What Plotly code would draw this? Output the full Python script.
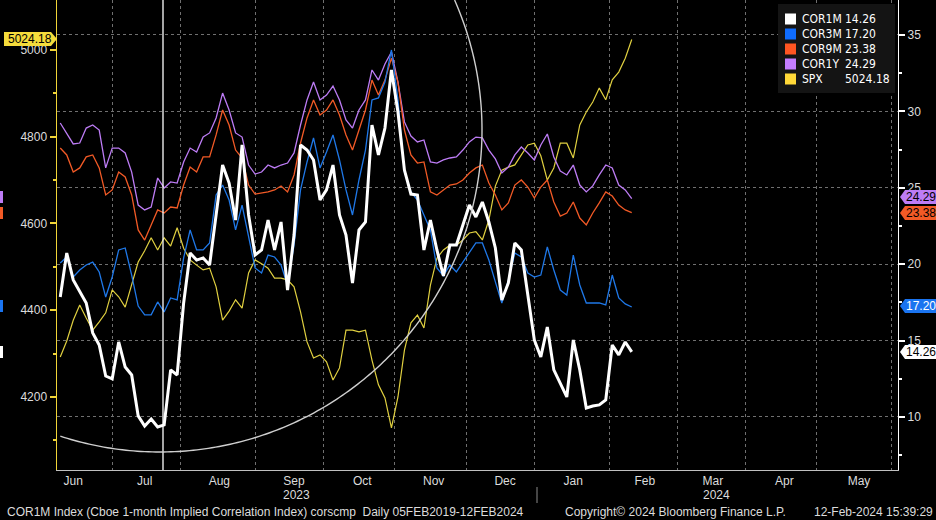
import numpy as np
import pandas as pd
import plotly.graph_objects as go

# ---------------- data (every second business day, Jun-2023 .. 12-Feb-2024) ----------------
dates = pd.bdate_range("2023-06-08", "2024-02-12")[1::2]

cor1m = [17.85, 20.73, 18.97, 18.18, 17.46, 15.50, 14.71, 12.68, 12.49, 14.91,
         13.27, 12.75, 10.07, 9.41, 9.87, 9.35, 9.48, 13.08, 12.75, 17.46,
         20.73, 20.27, 20.41, 19.95, 23.42, 26.49, 25.31, 22.89, 27.80, 23.22,
         20.60, 20.93, 22.89, 20.93, 22.76, 18.31, 21.91, 27.80, 27.47, 26.82,
         24.20, 24.86, 26.49, 23.22, 21.91, 18.77, 22.24, 22.76, 29.11, 27.15,
         28.91, 32.71, 29.96, 26.16, 24.59, 24.53, 20.93, 22.89, 20.93, 19.23,
         21.26, 21.26, 22.57, 23.87, 23.09, 24.07, 22.76, 21.06, 17.66, 18.77,
         21.39, 20.93, 17.98, 15.04, 13.93, 15.89, 13.08, 12.23, 11.31, 15.04,
         13.08, 10.59, 10.72, 10.79, 11.11, 14.71, 14.06, 14.91, 14.26]

cor3m = [20.08, 20.47, 19.16, 19.62, 19.95, 20.14, 19.49, 17.85, 19.16, 20.93,
         21.06, 19.29, 17.26, 16.68, 16.68, 17.53, 16.87, 17.79, 17.66, 20.41,
         22.24, 20.93, 20.93, 21.39, 24.53, 25.18, 24.20, 22.24, 23.87, 21.91,
         19.75, 19.42, 20.60, 20.47, 19.95, 18.64, 21.26, 24.86, 26.69, 28.26,
         26.30, 27.34, 28.46, 26.82, 24.86, 23.22, 25.51, 27.47, 30.75, 30.88,
         31.92, 34.02, 30.75, 26.03, 24.73, 24.20, 23.22, 22.24, 19.75, 19.23,
         19.95, 19.49, 20.14, 20.73, 21.39, 21.39, 20.27, 18.84, 17.46, 18.97,
         20.73, 20.47, 19.42, 19.16, 19.29, 21.13, 19.62, 18.31, 17.98, 20.60,
         18.64, 17.46, 17.46, 17.46, 17.33, 19.29, 17.79, 17.40, 17.20]

cor9m = [27.60, 27.15, 26.03, 26.30, 27.02, 27.15, 26.30, 24.53, 24.86, 26.03,
         25.71, 24.53, 22.24, 21.58, 22.57, 23.55, 23.35, 23.74, 23.68, 25.18,
         26.36, 26.03, 27.02, 27.02, 28.46, 30.09, 29.11, 27.47, 26.95, 25.18,
         24.59, 24.66, 24.73, 24.86, 25.12, 24.73, 25.84, 27.93, 29.57, 30.75,
         29.76, 30.09, 30.75, 29.76, 28.46, 27.47, 28.78, 30.09, 32.05, 31.07,
         32.05, 33.49, 31.92, 28.78, 27.15, 26.62, 26.69, 24.73, 24.53, 24.86,
         25.18, 25.25, 25.51, 25.97, 26.30, 26.49, 25.31, 24.53, 23.55, 24.01,
         25.18, 25.51, 25.05, 24.33, 25.05, 25.51, 24.07, 23.15, 23.35, 24.07,
         23.02, 22.57, 23.35, 24.01, 24.73, 24.46, 23.87, 23.55, 23.38]

cor1y = [29.24, 28.52, 27.87, 27.93, 28.91, 29.11, 28.78, 26.30, 27.60, 27.60,
         27.28, 26.03, 23.87, 23.55, 23.74, 25.64, 24.99, 25.38, 25.31, 26.69,
         27.60, 27.34, 28.32, 28.59, 29.57, 31.20, 30.09, 28.59, 28.32, 26.49,
         25.90, 26.03, 26.49, 26.30, 26.49, 26.62, 27.28, 29.11, 30.75, 31.92,
         30.75, 31.07, 31.66, 30.75, 29.44, 28.91, 30.09, 30.75, 32.71, 32.05,
         33.10, 33.89, 31.92, 29.31, 28.39, 28.00, 28.13, 26.69, 26.62, 26.82,
         26.95, 27.02, 27.47, 28.00, 28.32, 28.26, 27.47, 26.89, 25.97, 26.36,
         27.15, 27.67, 27.28, 26.82, 27.80, 28.52, 27.02, 26.10, 25.84, 26.49,
         25.18, 24.73, 25.12, 25.84, 26.49, 26.30, 25.18, 24.86, 24.29]

spx = [4292, 4329, 4377, 4412, 4382, 4354, 4373, 4394, 4447, 4431,
       4407, 4458, 4511, 4537, 4567, 4539, 4567, 4548, 4590, 4543,
       4516, 4504, 4493, 4497, 4454, 4377, 4398, 4424, 4405, 4486,
       4516, 4507, 4497, 4474, 4474, 4470, 4454, 4396, 4327, 4290,
       4297, 4281, 4239, 4267, 4354, 4354, 4350, 4354, 4285, 4228,
       4198, 4129, 4200, 4308, 4371, 4389, 4359, 4458, 4520, 4539,
       4550, 4550, 4562, 4578, 4581, 4562, 4608, 4686, 4723, 4730,
       4735, 4758, 4781, 4785, 4756, 4700, 4728, 4785, 4785, 4751,
       4827, 4857, 4880, 4912, 4885, 4931, 4949, 4981, 5024.18]

series_names = ["COR1M", "COR3M", "COR9M", "COR1Y", "SPX"]
last_labels = ["14.26", "17.20", "23.38", "24.29", "5024.18"]

month_starts = ["2023-07-03", "2023-08-01", "2023-09-01", "2023-10-02", "2023-11-01",
                "2023-12-01", "2024-01-01", "2024-02-01", "2024-03-01", "2024-04-01",
                "2024-05-01", "2024-06-03"]
month_label_dates = ["2023-06-15", "2023-07-17", "2023-08-17", "2023-09-19", "2023-10-18",
                     "2023-11-17", "2023-12-19", "2024-01-17", "2024-02-16", "2024-03-18",
                     "2024-04-17", "2024-05-20"]
month_names = ["Jun", "Jul", "Aug", "Sep", "Oct", "Nov", "Dec", "Jan", "Feb", "Mar", "Apr", "May"]
spx_ticks = [4200, 4400, 4600, 4800, 5000]
spx_minor = [4100, 4300, 4500, 4700, 4900]
cor_ticks = [10, 15, 20, 25, 30, 35]
cor_minor = [7.5, 12.5, 17.5, 22.5, 27.5, 32.5]

# ---------------- style ----------------
C_WHITE = "#ffffff"
C_BLUE = "#1f78e8"
C_ORANGE = "#f25a26"
C_PURPLE = "#bd7cf5"
C_YELLOW = "#e0d040"
LEG_COLORS = ["#ffffff", "#0f6cff", "#ff5522", "#c47dff", "#ffd838"]
TXT = "#dcdcdc"
GRID = "#707070"
FONT = "Liberation Sans, Arial, sans-serif"
COND = "DejaVu Sans Condensed, Liberation Sans, Arial, sans-serif"

W, H = 936, 520
ML, MR, MT, MB = 57, 38, 0, 50
PW, PH = W - ML - MR, H - MT - MB


def px(x):
    return (x - ML) / PW


def py(y):
    return (H - MB - y) / PH


fig = go.Figure()
fig.add_trace(go.Scatter(x=dates, y=spx, yaxis="y", mode="lines",
                         line=dict(color=C_YELLOW, width=1.2), name="SPX"))
for name, vals, col, wd in [("COR1Y", cor1y, C_PURPLE, 1.3), ("COR9M", cor9m, C_ORANGE, 1.3),
                            ("COR3M", cor3m, C_BLUE, 1.3), ("COR1M", cor1m, C_WHITE, 3.0)]:
    fig.add_trace(go.Scatter(x=dates, y=vals, yaxis="y2", mode="lines",
                             line=dict(color=col, width=wd), name=name))

shapes = []
annotations = []

# vertical marker line
shapes.append(dict(type="line", xref="paper", yref="paper", x0=px(163), x1=px(163), y0=0, y1=1,
                   line=dict(color="#ffffff", width=1.3), layer="above"))

# hand-drawn circle (clipped to plot area)
cx, cy, r = 160.0, 130.0, 322.0
th = np.linspace(np.deg2rad(108.7), np.deg2rad(-23.8), 200)
xs = cx + r * np.cos(th)
ys = cy + r * np.sin(th)
keep = (xs >= ML) & (xs <= W - MR) & (ys >= 0) & (ys <= H - MB)
pts = [(px(a), py(b)) for a, b in zip(xs[keep], ys[keep])]
path = "M " + " L ".join(f"{a:.5f},{b:.5f}" for a, b in pts)
shapes.append(dict(type="path", xref="paper", yref="paper", path=path,
                   line=dict(color="#cfcfcf", width=1.4), layer="above"))

# legend box
shapes.append(dict(type="rect", xref="paper", yref="paper", x0=px(778), x1=px(895), y0=py(93), y1=py(4),
                   fillcolor="#141414", line=dict(width=0), layer="above"))
row_y = [19, 34, 49, 64, 79]
for i, (nm, val, col) in enumerate(zip(series_names, last_labels, LEG_COLORS)):
    yc = row_y[i]
    shapes.append(dict(type="rect", xref="paper", yref="paper", x0=px(785), x1=px(796),
                       y0=py(yc + 5.5), y1=py(yc - 5.5), fillcolor=col, line=dict(width=0), layer="above"))
    annotations.append(dict(xref="paper", yref="paper", x=px(800), y=py(yc), text=nm, showarrow=False,
                            xanchor="left", yanchor="middle", font=dict(family=COND, size=12, color="#ffffff")))
    annotations.append(dict(xref="paper", yref="paper", x=px(843), y=py(yc), text=val, showarrow=False,
                            xanchor="left", yanchor="middle", font=dict(family=COND, size=12, color="#ffffff")))

# right-hand value tags
right_tags = [(197, C_PURPLE, "24.29", "#000000"), (213, C_ORANGE, "23.38", "#000000"),
              (306, "#1a74f0", "17.20", "#ffffff"), (352, "#ffffff", "14.26", "#000000")]
for yc, col, txt, tcol in right_tags:
    x0, x1, hh = 900, 940, 7
    p = (f"M {px(x0):.5f},{py(yc):.5f} L {px(x0 + 5):.5f},{py(yc - hh):.5f} L {px(x1):.5f},{py(yc - hh):.5f} "
         f"L {px(x1):.5f},{py(yc + hh):.5f} L {px(x0 + 5):.5f},{py(yc + hh):.5f} Z")
    shapes.append(dict(type="path", xref="paper", yref="paper", path=p, fillcolor=col,
                       line=dict(width=0), layer="above"))
    annotations.append(dict(xref="paper", yref="paper", x=px(904), y=py(yc), text=txt, showarrow=False,
                            xanchor="left", yanchor="middle", font=dict(family=FONT, size=12, color=tcol)))
    # wrapped sliver on the left edge
    shapes.append(dict(type="rect", xref="paper", yref="paper", x0=px(0), x1=px(3),
                       y0=py(yc + 6), y1=py(yc - 6), fillcolor=col, line=dict(width=0), layer="above"))

# left SPX tag
yc = 39
p = (f"M {px(4):.5f},{py(yc - 7):.5f} L {px(51):.5f},{py(yc - 7):.5f} L {px(57):.5f},{py(yc):.5f} "
     f"L {px(51):.5f},{py(yc + 7):.5f} L {px(4):.5f},{py(yc + 7):.5f} Z")
shapes.append(dict(type="path", xref="paper", yref="paper", path=p, fillcolor="#f5dc3c",
                   line=dict(width=0), layer="above"))
annotations.append(dict(xref="paper", yref="paper", x=px(6), y=py(yc), text="5024.18", showarrow=False,
                        xanchor="left", yanchor="middle", font=dict(family=FONT, size=12, color="#000000")))

# year labels & separator
annotations.append(dict(xref="paper", yref="paper", x=px(296), y=py(495), text="2023", showarrow=False,
                        xanchor="center", yanchor="middle", font=dict(family=FONT, size=12, color=TXT)))
annotations.append(dict(xref="paper", yref="paper", x=px(716), y=py(495), text="2024", showarrow=False,
                        xanchor="center", yanchor="middle", font=dict(family=FONT, size=12, color=TXT)))
shapes.append(dict(type="line", xref="paper", yref="paper", x0=px(537), x1=px(537), y0=py(487), y1=py(503),
                   line=dict(color="#8a8a8a", width=1)))

# footer
annotations.append(dict(xref="paper", yref="paper", x=px(5), y=py(512),
                        text="COR1M Index (Cboe 1-month Implied Correlation Index) corscmp&nbsp;&nbsp;Daily 05FEB2019-12FEB2024",
                        showarrow=False, xanchor="left", yanchor="middle",
                        font=dict(family=FONT, size=12, color=TXT)))
annotations.append(dict(xref="paper", yref="paper", x=px(563), y=py(512),
                        text="Copyright© 2024 Bloomberg Finance L.P.", showarrow=False,
                        xanchor="left", yanchor="middle", font=dict(family=FONT, size=12, color=TXT)))
annotations.append(dict(xref="paper", yref="paper", x=px(935), y=py(512),
                        text="12-Feb-2024 15:39:29", showarrow=False,
                        xanchor="right", yanchor="middle", font=dict(family=FONT, size=12, color=TXT)))

fig.update_layout(
    width=W, height=H,
    margin=dict(l=ML, r=MR, t=MT, b=MB, pad=0, autoexpand=False),
    paper_bgcolor="#000000", plot_bgcolor="#000000",
    showlegend=False,
    hovermode=False,
    font=dict(family=FONT, size=12, color=TXT),
    xaxis=dict(type="date", range=["2023-06-08", "2024-06-05"], automargin=False,
               rangebreaks=[dict(bounds=["sat", "mon"])],
               tickmode="array", tickvals=month_label_dates, ticktext=month_names,
               ticks="", showgrid=False, zeroline=False,
               minor=dict(tickmode="array", tickvals=month_starts, showgrid=True,
                          gridcolor=GRID, griddash="dot", gridwidth=1, ticks=""),
               showline=True, linecolor="#c0c0c0", linewidth=1,
               tickfont=dict(family=FONT, size=12, color=TXT)),
    yaxis=dict(range=[4031.7, 5115.1], side="left", automargin=False,
               tickmode="array", tickvals=spx_ticks, ticktext=[str(v) for v in spx_ticks],
               ticks="outside", ticklen=6, tickwidth=2, tickcolor="#f0d437",
               showline=True, linecolor="#f0d437", linewidth=1.5,
               showgrid=False, zeroline=False,
               minor=dict(tickmode="array", tickvals=spx_minor, ticks="outside", ticklen=3,
                          tickcolor="#f0d437", showgrid=False),
               tickfont=dict(family=FONT, size=12, color=TXT)),
    yaxis2=dict(range=[6.53, 37.29], side="right", overlaying="y", automargin=False,
                tickmode="array", tickvals=cor_ticks, ticktext=[str(v) for v in cor_ticks],
                ticks="outside", ticklen=6, tickwidth=2, tickcolor="#ffffff",
                showline=True, linecolor="#ffffff", linewidth=1.2,
                showgrid=True, gridcolor=GRID, griddash="dot", gridwidth=1, zeroline=False,
                minor=dict(tickmode="array", tickvals=cor_minor, ticks="outside", ticklen=3,
                           tickcolor="#ffffff", showgrid=False),
                tickfont=dict(family=FONT, size=12, color=TXT)),
    shapes=shapes,
    annotations=annotations,
)

fig.write_html("out.html", config={"displayModeBar": False, "staticPlot": True},
               post_script="document.body.style.margin='0';document.body.style.background='#000';")
